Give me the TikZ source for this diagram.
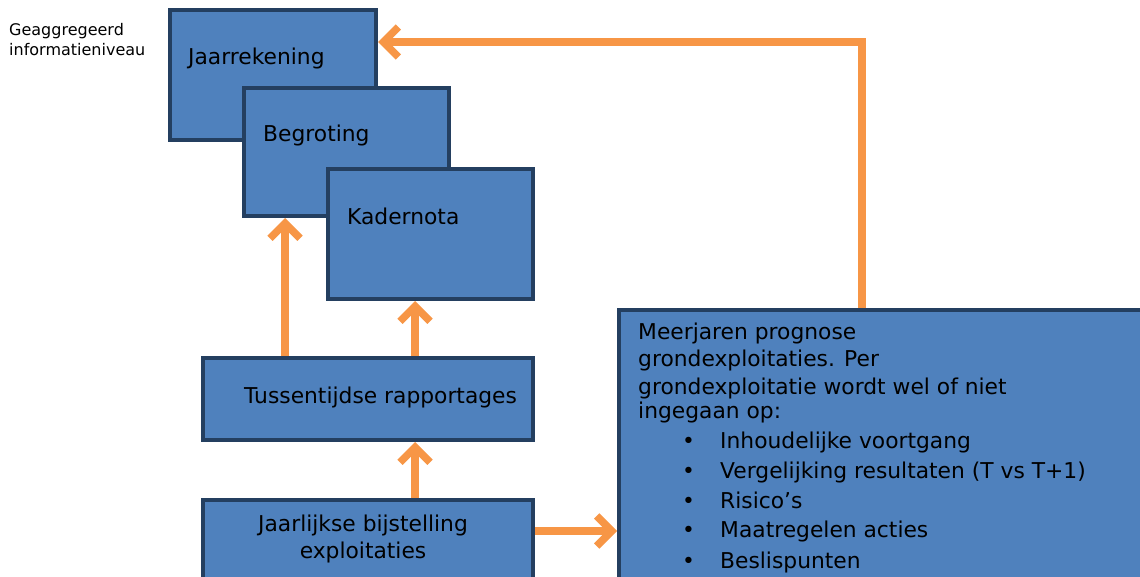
\documentclass[tikz,border=0pt]{standalone}
\usepackage{fontspec}
\setmainfont{DejaVu Sans}
\usetikzlibrary{arrows.meta}
\definecolor{boxfill}{HTML}{4F81BD}
\definecolor{boxline}{HTML}{243F60}
\definecolor{arr}{HTML}{F79646}
\begin{document}
\begin{tikzpicture}[x=1pt,y=-1pt,
  blk/.style={draw=boxline,fill=boxfill,line width=4pt,inner sep=0pt},
  lbl/.style={anchor=base west,inner sep=0pt,font=\fontsize{21.8}{27}\selectfont},
  small/.style={anchor=base west,inner sep=0pt,align=left,font=\fontsize{16}{20.5}\selectfont},
  conn/.style={draw=arr,line width=7.5pt,-{Straight Barb[length=15pt,width=30pt]}}]
\useasboundingbox (0,0) rectangle (1140,577);
\clip (0,0) rectangle (1140,577);
% boxes
\node[blk,minimum width=206pt,minimum height=130pt] (jaar) at (273,75) {};
\node[blk,minimum width=205pt,minimum height=128pt] (beg) at (346.5,152) {};
\node[blk,minimum width=205pt,minimum height=130pt] (kad) at (430.5,234) {};
\node[blk,minimum width=330pt,minimum height=82pt] (tuss) at (368,399) {};
\node[blk,minimum width=330pt,minimum height=120pt] (jbij) at (368,560) {};
\node[blk,minimum width=541pt,minimum height=310pt] (big) at (889.5,465) {};
% texts
\node[small] (geag) at (9,56) {Geaggregeerd\\informatieniveau};
\node[lbl] (tj) at (188,65) {Jaarrekening};
\node[lbl] (tb) at (263,142) {Begroting};
\node[lbl] (tk) at (347,225) {Kadernota};
\node[lbl] (tt) at (244,403) {Tussentijdse rapportages};
\node[lbl,anchor=base,align=center] (tjb) at (363,558) {Jaarlijkse bijstelling\\exploitaties};
\node[lbl] (m1) at (638,339) {Meerjaren prognose};
\node[lbl] (m2) at (638,366) {grondexploitaties. Per};
\node[lbl] (m3) at (638,394) {grondexploitatie wordt wel of niet};
\node[lbl] (m4) at (638,418) {ingegaan op:};
\foreach \yy/\tx [count=\i] in {448/Inhoudelijke voortgang,478/Vergelijking resultaten (T vs T+1),508/Risico’s,537/Maatregelen acties,568/Beslispunten}{
  \node[lbl] (bu\i) at (682,\yy) {•};
  \node[lbl] (bt\i) at (720,\yy) {\tx};
}
% connectors
\coordinate (bend) at (862,42);
\coordinate (xa) at (285,0);
\coordinate (xb) at (415,0);
\coordinate (yb) at (0,531);
\draw[conn] (big.north -| bend) -- (bend) -- (jaar.east |- bend);
\draw[conn] (tuss.north -| xa) -- (beg.south -| xa);
\draw[conn] (tuss.north -| xb) -- (kad.south -| xb);
\draw[conn] (jbij.north -| xb) -- (tuss.south -| xb);
\draw[conn] (jbij.east |- yb) -- (big.west |- yb);
\end{tikzpicture}
\end{document}
